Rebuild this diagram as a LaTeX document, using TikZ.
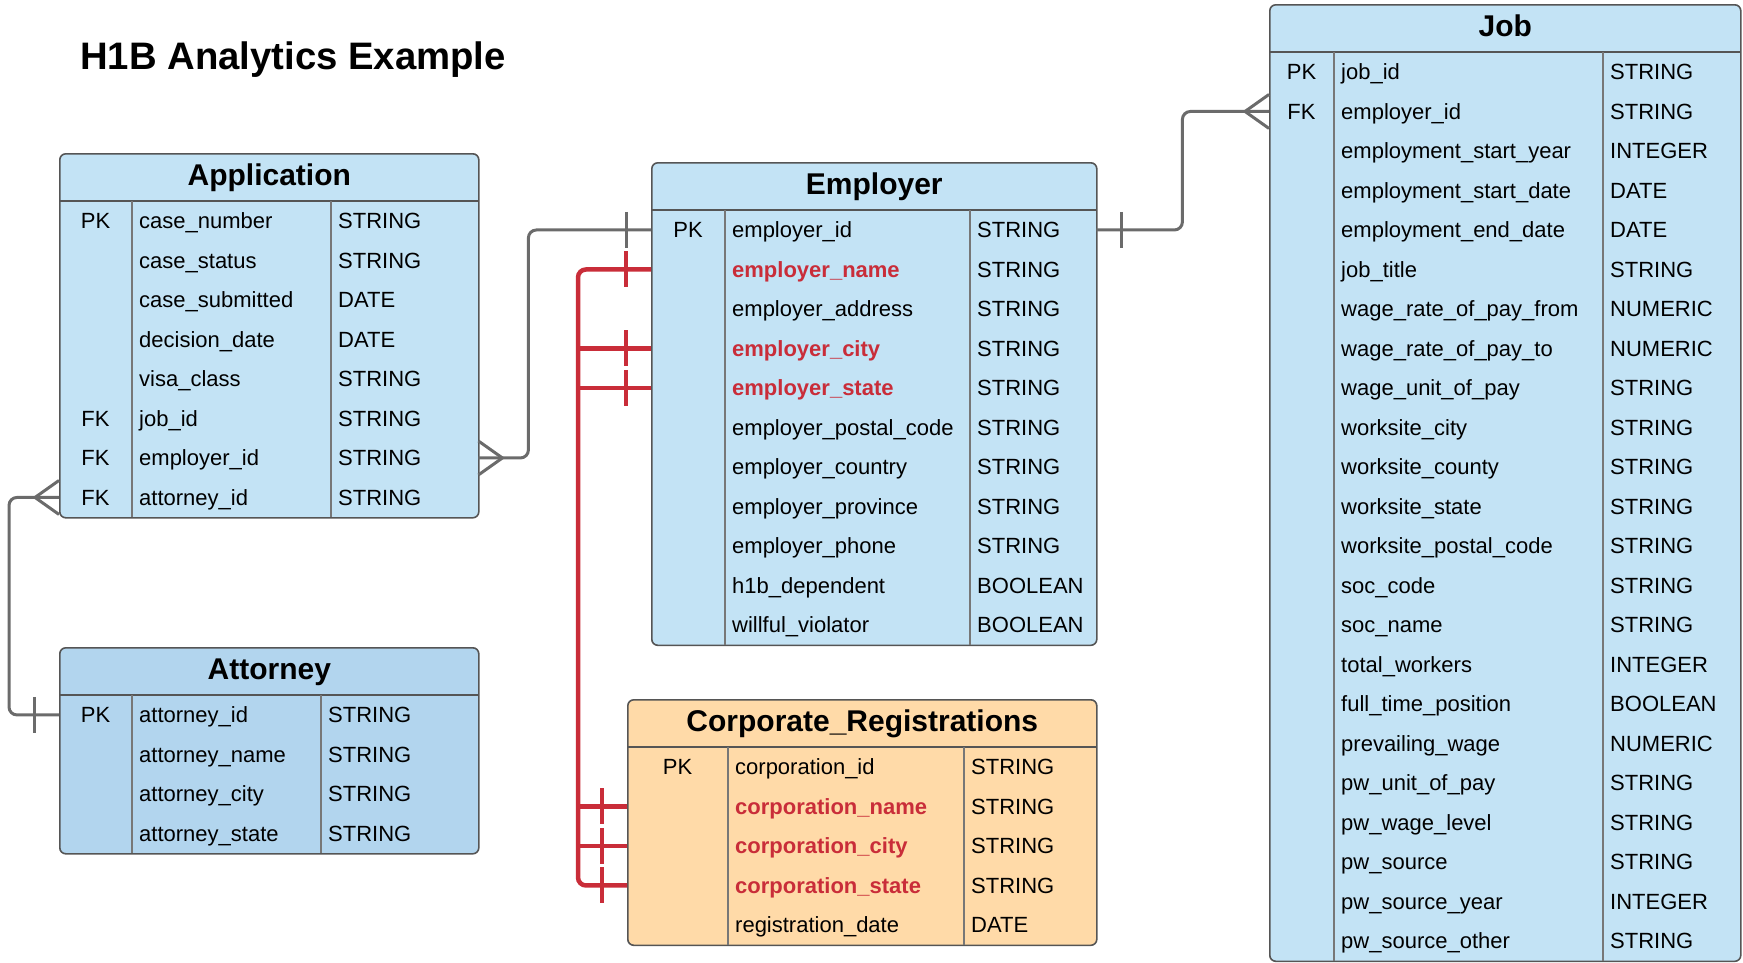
\documentclass[tikz,border=0pt]{standalone}
\usepackage{fontspec}
\setmainfont{Liberation Sans}
\usepackage{xcolor}
\usetikzlibrary{calc, positioning}

\definecolor{tblblue}{HTML}{C3E3F5}
\definecolor{attblue}{HTML}{B2D5EE}
\definecolor{corporange}{HTML}{FFDAA8}
\definecolor{keyred}{HTML}{C92D39}
\definecolor{linegray}{HTML}{6B6B6B}
\definecolor{edgegray}{HTML}{555555}

\tikzset{
    tblframe/.style={draw=edgegray, line width=1.6pt, rounded corners=6pt, inner sep=0pt},
    tbltitle/.style={font=\bfseries\fontsize{30}{34}\selectfont, anchor=base, inner sep=0pt},
    rowcell/.style={inner sep=0pt, minimum height=39.5pt},
    cell/.style={anchor=base west, inner sep=0pt, font=\fontsize{22}{26}\selectfont},
    keycell/.style={anchor=base, inner sep=0pt, font=\fontsize{22}{26}\selectfont},
    plainfield/.style={},
    redfield/.style={text=keyred, font=\bfseries\fontsize{22}{26}\selectfont},
    divider/.style={draw=edgegray!80, line width=1.3pt},
    relation/.style={draw=linegray, line width=3pt, rounded corners=8pt},
    redrelation/.style={draw=keyred, line width=4.5pt, rounded corners=8pt},
    crowfoot/.pic={\draw (0,-17) -- (24,0) -- (0,17);},
    onetick/.pic={\draw (25,-18) -- (25,18);},
}

% #1 name, #2 left, #3 top, #4 width, #5 first divider, #6 second divider, #7 fill, #8 title, #9 rows
\newcommand{\erdtable}[9]{
    \foreach \k/\f/\t/\s [count=\i] in {#9} {\xdef\nrows{\i}}
    \pgfmathsetmacro{\tblh}{48+\nrows*39.5}
    \node[tblframe, fill=#7, anchor=north west, minimum width=#4pt, minimum height=\tblh pt] (#1) at (#2,#3) {};
    \node[tbltitle] at ($(#1.north)+(0,32)$) {#8};
    \draw[edgegray, line width=1.6pt] ({#2},{#3+48}) -- ({#2+#4},{#3+48});
    \draw[divider] ({#2+#5},{#3+48}) -- ({#2+#5},{#3+\tblh});
    \draw[divider] ({#2+#6},{#3+48}) -- ({#2+#6},{#3+\tblh});
    \foreach \k/\f/\t/\s [count=\i] in {#9} {
        \node[rowcell, minimum width=#4pt, anchor=north west] (#1-\i) at ({#2},{#3+48+(\i-1)*39.5}) {};
        \node[keycell] at ($(#1-\i.west)+(#5/2,8)$) {\k};
        \node[cell, \s] at ($(#1-\i.west)+(#5+7,8)$) {\f};
        \node[cell] at ($(#1-\i.west)+(#6+7,8)$) {\t};
    }
}

\begin{document}
\begin{tikzpicture}[x=1pt, y=-1pt]
    \useasboundingbox (0,0) rectangle (1743,962);

    \node[anchor=base west, inner sep=0pt, font=\bfseries\fontsize{38.3}{44}\selectfont] (title) at (80,69.5) {H1B Analytics Example};

    % tables
    \erdtable{app}{59}{153}{419}{73}{272}{tblblue}{Application}{PK/case\_number/STRING/plainfield, {}/case\_status/STRING/plainfield, {}/case\_submitted/DATE/plainfield, {}/decision\_date/DATE/plainfield, {}/visa\_class/STRING/plainfield, FK/job\_id/STRING/plainfield, FK/employer\_id/STRING/plainfield, FK/attorney\_id/STRING/plainfield}

    \erdtable{emp}{651}{162}{445}{74}{319}{tblblue}{Employer}{PK/employer\_id/STRING/plainfield, {}/employer\_name/STRING/redfield, {}/employer\_address/STRING/plainfield, {}/employer\_city/STRING/redfield, {}/employer\_state/STRING/redfield, {}/employer\_postal\_code/STRING/plainfield, {}/employer\_country/STRING/plainfield, {}/employer\_province/STRING/plainfield, {}/employer\_phone/STRING/plainfield, {}/h1b\_dependent/BOOLEAN/plainfield, {}/willful\_violator/BOOLEAN/plainfield}

    \erdtable{att}{59}{647}{419}{73}{262}{attblue}{Attorney}{PK/attorney\_id/STRING/plainfield, {}/attorney\_name/STRING/plainfield, {}/attorney\_city/STRING/plainfield, {}/attorney\_state/STRING/plainfield}

    \erdtable{corp}{627}{699}{469}{101}{337}{corporange}{Corporate\_Registrations}{PK/corporation\_id/STRING/plainfield, {}/corporation\_name/STRING/redfield, {}/corporation\_city/STRING/redfield, {}/corporation\_state/STRING/redfield, {}/registration\_date/DATE/plainfield}

    \erdtable{job}{1269}{4}{471}{65}{334}{tblblue}{Job}{PK/job\_id/STRING/plainfield, FK/employer\_id/STRING/plainfield, {}/employment\_start\_year/INTEGER/plainfield, {}/employment\_start\_date/DATE/plainfield, {}/employment\_end\_date/DATE/plainfield, {}/job\_title/STRING/plainfield, {}/wage\_rate\_of\_pay\_from/NUMERIC/plainfield, {}/wage\_rate\_of\_pay\_to/NUMERIC/plainfield, {}/wage\_unit\_of\_pay/STRING/plainfield, {}/worksite\_city/STRING/plainfield, {}/worksite\_county/STRING/plainfield, {}/worksite\_state/STRING/plainfield, {}/worksite\_postal\_code/STRING/plainfield, {}/soc\_code/STRING/plainfield, {}/soc\_name/STRING/plainfield, {}/total\_workers/INTEGER/plainfield, {}/full\_time\_position/BOOLEAN/plainfield, {}/prevailing\_wage/NUMERIC/plainfield, {}/pw\_unit\_of\_pay/STRING/plainfield, {}/pw\_wage\_level/STRING/plainfield, {}/pw\_source/STRING/plainfield, {}/pw\_source\_year/INTEGER/plainfield, {}/pw\_source\_other/STRING/plainfield}

    % relations
    \draw[relation] (app-7.east) -| ([xshift=50pt]app-7.east |- emp-1.west) -- (emp-1.west);
    \pic[linegray, line width=3pt] at (app-7.east) {crowfoot};
    \pic[linegray, line width=3pt, xscale=-1] at (emp-1.west) {onetick};

    \draw[relation] (emp-1.east) -| ([xshift=86pt]emp-1.east |- job-2.west) -- (job-2.west);
    \pic[linegray, line width=3pt] at (emp-1.east) {onetick};
    \pic[linegray, line width=3pt, xscale=-1] at (job-2.west) {crowfoot};

    \draw[relation] (app-8.west) -| ([xshift=-50pt]app-8.west |- att-1.west) -- (att-1.west);
    \pic[linegray, line width=3pt, xscale=-1] at (app-8.west) {crowfoot};
    \pic[linegray, line width=3pt, xscale=-1] at (att-1.west) {onetick};

    % red links between employer and corporate rows
    \coordinate (trunk) at ([xshift=-73pt]emp-2.west);
    \draw[redrelation] (emp-2.west) -| (trunk |- corp-4.west) -- (corp-4.west);
    \foreach \r in {emp-4, emp-5, corp-2, corp-3} {
        \draw[redrelation] (\r.west) -- (trunk |- \r.west);
    }
    \foreach \r in {emp-2, emp-4, emp-5, corp-2, corp-3, corp-4} {
        \pic[keyred, line width=4.5pt, xscale=-1] at (\r.west) {onetick};
    }
\end{tikzpicture}
\end{document}
